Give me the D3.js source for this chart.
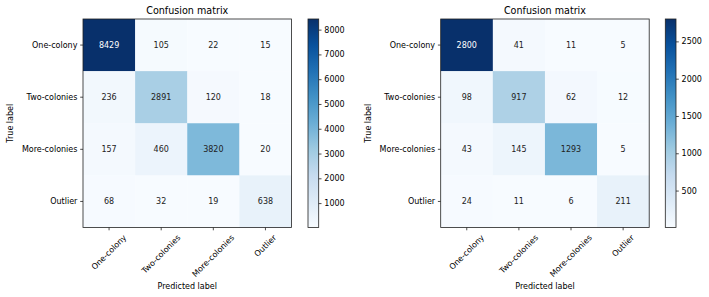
<!DOCTYPE html>
<html>
<head>
<meta charset="utf-8">
<script src="https://cdn.jsdelivr.net/npm/d3@7"></script>
<style>
  body { margin: 0; background: #fff; }
  svg { display: block; font-family: "DejaVu Sans", sans-serif; }
  svg text { font-family: "DejaVu Sans", sans-serif; }
  .axis text { font-size: 8px; fill: #000; }
  .axis path, .axis line { stroke: #222; stroke-width: 0.8; }
</style>
</head>
<body>
<div id="chart"></div>
<script>
const classes = ["One-colony", "Two-colonies", "More-colonies", "Outlier"];

const trainMatrix = [
  [8429, 105, 22, 15],
  [236, 2891, 120, 18],
  [157, 460, 3820, 20],
  [68, 32, 19, 638]
];
const testMatrix = [
  [2800, 41, 11, 5],
  [98, 917, 62, 12],
  [43, 145, 1293, 5],
  [24, 11, 6, 211]
];

const trainTicks = [1000, 2000, 3000, 4000, 5000, 6000, 7000, 8000];
const testTicks = [500, 1000, 1500, 2000, 2500];

const panels = [
  {matrix: trainMatrix, ticks: trainTicks, left: 83, cbLeft: 308, labelX: 10.7},
  {matrix: testMatrix, ticks: testTicks, left: 440.7, cbLeft: 665.3, labelX: 368.7}
];

const W = 709, H = 297;
const plotTop = 19, size = 208.5, cbWidth = 10.7;
const tickLen = 2.8, tickPad = 2.8;

// matplotlib "Blues" = linear steps through the 9 brewer colours
const blues = d3.schemeBlues[9];

const svg = d3.select("#chart").append("svg")
  .attr("width", W)
  .attr("height", H);

const defs = svg.append("defs");

panels.forEach((p, pi) => {
  const flat = p.matrix.flat();
  const vmin = d3.min(flat), vmax = d3.max(flat);
  const color = d3.scaleLinear()
    .domain(d3.range(9).map(i => vmin + (vmax - vmin) * i / 8))
    .range(blues);
  const thresh = vmax / 2;

  const x = d3.scaleBand().domain(classes).range([p.left, p.left + size]);
  const y = d3.scaleBand().domain(classes).range([plotTop, plotTop + size]);

  const g = svg.append("g");

  // cells
  const cells = [];
  p.matrix.forEach((row, i) => row.forEach((v, j) => cells.push({i, j, v})));

  g.selectAll("rect.cell")
    .data(cells)
    .enter().append("rect")
      .attr("class", "cell")
      .attr("x", d => x(classes[d.j]))
      .attr("y", d => y(classes[d.i]))
      .attr("width", x.bandwidth() + 0.3)
      .attr("height", y.bandwidth() + 0.3)
      .attr("fill", d => color(d.v));

  g.selectAll("text.val")
    .data(cells)
    .enter().append("text")
      .attr("class", "val")
      .attr("x", d => x(classes[d.j]) + x.bandwidth() / 2)
      .attr("y", d => y(classes[d.i]) + y.bandwidth() / 2)
      .attr("text-anchor", "middle")
      .attr("dominant-baseline", "central")
      .attr("font-size", "8px")
      .attr("fill", d => d.v > thresh ? "#fff" : "#222")
      .text(d => d.v);

  // frame
  g.append("rect")
    .attr("x", p.left).attr("y", plotTop)
    .attr("width", size).attr("height", size)
    .attr("fill", "none").attr("stroke", "#222").attr("stroke-width", 0.8);

  // y axis
  const yAxis = g.append("g")
    .attr("class", "axis")
    .attr("transform", "translate(" + p.left + ",0)")
    .call(d3.axisLeft(y).tickSize(tickLen).tickPadding(tickPad));
  yAxis.select(".domain").remove();

  // x axis, labels rotated 45 deg centred on tick
  const xAxis = g.append("g")
    .attr("class", "axis")
    .attr("transform", "translate(0," + (plotTop + size) + ")")
    .call(d3.axisBottom(x).tickSize(tickLen).tickPadding(tickPad));
  xAxis.select(".domain").remove();
  xAxis.selectAll(".tick text").each(function() {
    const t = d3.select(this);
    const w = this.getComputedTextLength();
    const h = 9.3;
    const bh = (w + h) / Math.SQRT2;
    const cy = tickLen + tickPad + bh / 2;
    t.attr("text-anchor", "middle")
      .attr("dy", null)
      .attr("y", 0)
      .attr("dominant-baseline", "central")
      .attr("transform", "translate(0," + cy + ")rotate(-45)");
  });

  // titles
  g.append("text")
    .attr("x", p.left + size / 2)
    .attr("y", 14.3)
    .attr("text-anchor", "middle")
    .attr("font-size", "9.6px")
    .text("Confusion matrix");

  g.append("text")
    .attr("x", p.left + size / 2)
    .attr("y", 286.5)
    .attr("text-anchor", "middle")
    .attr("dominant-baseline", "central")
    .attr("font-size", "8px")
    .text("Predicted label");

  g.append("text")
    .attr("transform", "translate(" + p.labelX + "," + (plotTop + size / 2) + ")rotate(-90)")
    .attr("text-anchor", "middle")
    .attr("dominant-baseline", "central")
    .attr("font-size", "8px")
    .text("True label");

  // colorbar
  const cbScale = d3.scaleLinear().domain([vmin, vmax]).range([plotTop + size, plotTop]);
  const gradId = "grad" + pi;
  const grad = defs.append("linearGradient")
    .attr("id", gradId)
    .attr("x1", 0).attr("y1", 1).attr("x2", 0).attr("y2", 0);
  grad.selectAll("stop")
    .data(blues)
    .enter().append("stop")
      .attr("offset", (d, i) => i / 8)
      .attr("stop-color", d => d);

  g.append("rect")
    .attr("x", p.cbLeft).attr("y", plotTop)
    .attr("width", cbWidth).attr("height", size)
    .attr("fill", "url(#" + gradId + ")")
    .attr("stroke", "#222").attr("stroke-width", 0.8);

  const cbAxis = g.append("g")
    .attr("class", "axis")
    .attr("transform", "translate(" + (p.cbLeft + cbWidth) + ",0)")
    .call(d3.axisRight(cbScale).tickValues(p.ticks).tickSize(tickLen).tickPadding(tickPad)
      .tickFormat(d3.format("d")));
  cbAxis.select(".domain").remove();
});
</script>
</body>
</html>
